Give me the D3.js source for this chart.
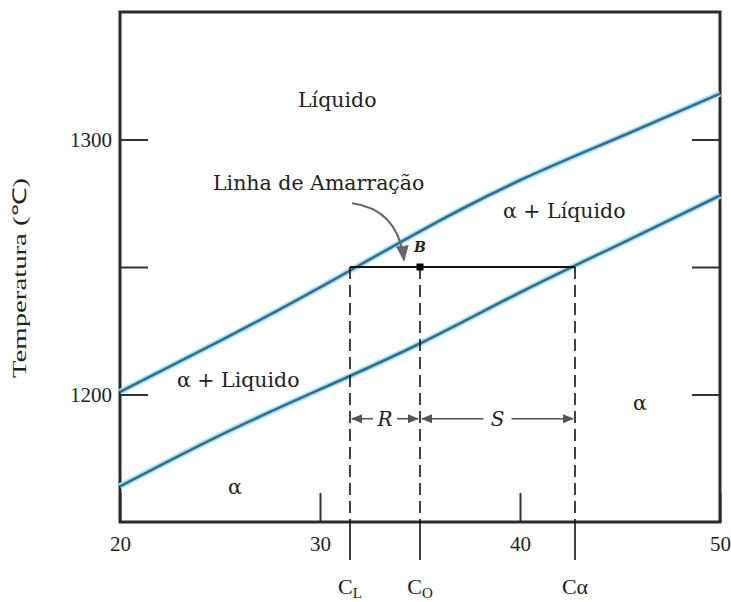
<!DOCTYPE html>
<html><head><meta charset="utf-8">
<script src="https://cdn.jsdelivr.net/npm/d3@7"></script>
<style>
html,body{margin:0;padding:0;background:#fff;}
svg{display:block;}
text{font-family:"DejaVu Serif",serif;fill:#222;}
</style></head>
<body>
<svg id="chart" width="731" height="602"></svg>
<script>
// ---- data ----
const composition = [20, 25, 30, 35, 40, 45, 50];
const liquidusTemp = [1201, 1221, 1242, 1264, 1284, 1301, 1318];
const solidusTemp  = [1164, 1184, 1202, 1220, 1240, 1259, 1278];
const xTicks = [20, 30, 40, 50];
const yTicks = [1200, 1250, 1300];
const yTickLabels = ["1200", "", "1300"];
const tieTemp = 1250;
const cL = 31.5, c0 = 35, cAlpha = 42.75;
const compLabels = [
  {c: cL, main: "C", sub: "L"},
  {c: c0, main: "C", sub: "O"},
  {c: cAlpha, main: "Cα", sub: ""}
];
const regionLabels = [
  {text: "Líquido", c: 28.9, t: 1312.7},
  {text: "Linha de Amarração", c: 24.65, t: 1280.2},
  {text: "α + Líquido", c: 39.15, t: 1269.2},
  {text: "α + Liquido", c: 22.85, t: 1202.9},
  {text: "α", c: 45.65, t: 1193.9},
  {text: "α", c: 25.4, t: 1161}
];

// ---- scales ----
const svg = d3.select("#chart");
const x = d3.scaleLinear().domain([20, 50]).range([120, 720]);
const y = d3.scaleLinear().domain([1150, 1350]).range([522, 12]);

const defs = svg.append("defs");
defs.append("marker").attr("id","ah").attr("viewBox","0 0 10 10").attr("refX",9).attr("refY",5)
  .attr("markerWidth",7).attr("markerHeight",7).attr("orient","auto-start-reverse")
  .append("path").attr("d","M0,1 L10,5 L0,9 z").attr("fill","#555");
defs.append("marker").attr("id","ah2").attr("viewBox","0 0 10 10").attr("refX",9).attr("refY",5)
  .attr("markerWidth",8).attr("markerHeight",8).attr("orient","auto")
  .append("path").attr("d","M0,1 L10,5 L0,9 z").attr("fill","#666");

// ---- axes (inward ticks) ----
const axB = d3.axisBottom(x).tickValues(xTicks).tickSizeInner(-29).tickSizeOuter(0).tickPadding(12).tickFormat(d3.format("d"));
const gB = svg.append("g").attr("transform","translate(0,522)").call(axB);
const axL = d3.axisLeft(y).tickValues(yTicks).tickSizeInner(-28).tickSizeOuter(0).tickPadding(8)
  .tickFormat((d,i)=>yTickLabels[i]);
const gL = svg.append("g").attr("transform","translate(120,0)").call(axL);
const axR = d3.axisRight(y).tickValues(yTicks).tickSizeInner(-28).tickSizeOuter(0).tickFormat("");
const gR = svg.append("g").attr("transform","translate(720,0)").call(axR);
[gB,gL,gR].forEach(g=>{
  g.select(".domain").remove();
  g.selectAll(".tick line").attr("stroke","#333").attr("stroke-width",2);
  g.selectAll(".tick text").style("font-family","'Liberation Serif',serif").style("font-size","21px").attr("fill","#333");
});
gB.selectAll(".tick text").attr("dy","0.8em");

// frame
svg.append("rect").attr("x",x(20)).attr("y",y(1350)).attr("width",x(50)-x(20)).attr("height",y(1150)-y(1350))
  .attr("fill","none").attr("stroke","#2a2a2a").attr("stroke-width",3);

// ---- phase boundary curves ----
const bLine = d3.line().x((d,i)=>x(composition[i])).y(d=>y(d)).curve(d3.curveNatural);
[liquidusTemp, solidusTemp].forEach(arr=>{
  svg.append("path").attr("d",bLine(arr)).attr("fill","none").attr("stroke","#aee3f3").attr("stroke-width",6);
  svg.append("path").attr("d",bLine(arr)).attr("fill","none").attr("stroke","#2a6f98").attr("stroke-width",2.6);
});

// ---- tie line ----
svg.append("line").attr("x1",x(cL)).attr("x2",x(cAlpha)).attr("y1",y(tieTemp)).attr("y2",y(tieTemp))
  .attr("stroke","#111").attr("stroke-width",2);

// dashed verticals
[cL, c0, cAlpha].forEach(c=>{
  svg.append("line").attr("x1",x(c)).attr("x2",x(c)).attr("y1",y(tieTemp)).attr("y2",y(1150))
    .attr("stroke","#111").attr("stroke-width",1.6).attr("stroke-dasharray","12,6");
  svg.append("line").attr("x1",x(c)).attr("x2",x(c)).attr("y1",y(1150)).attr("y2",y(1150)+38)
    .attr("stroke","#111").attr("stroke-width",1.6);
});

// point B
svg.append("rect").attr("x",x(c0)-3.5).attr("y",y(tieTemp)-3.5).attr("width",7).attr("height",7).attr("fill","#000");
svg.append("text").attr("x",x(c0)).attr("y",y(1255.9)).attr("text-anchor","middle")
  .style("font-size","14px").style("font-style","italic").style("font-weight","bold").attr("fill","#333").text("B");

// R and S lever arms
const armT = 1190.5;
function arm(c1, c2, label, gap){
  const xm = (x(c1)+x(c2))/2;
  svg.append("line").attr("x1",xm-gap).attr("x2",x(c1)+2).attr("y1",y(armT)).attr("y2",y(armT))
    .attr("stroke","#555").attr("stroke-width",1.6).attr("marker-end","url(#ah)");
  svg.append("line").attr("x1",xm+gap).attr("x2",x(c2)-2).attr("y1",y(armT)).attr("y2",y(armT))
    .attr("stroke","#555").attr("stroke-width",1.6).attr("marker-end","url(#ah)");
  svg.append("text").attr("x",xm).attr("y",y(armT)+7).attr("text-anchor","middle")
    .style("font-size","20px").style("font-style","italic").attr("fill","#333").text(label);
}
arm(cL, c0, "R", 12);
arm(c0, cAlpha, "S", 14);

// curved annotation arrow
const p0 = [x(31.6), y(1275)], p1 = [x(34.2), y(1252.7)];
svg.append("path").attr("d",`M${p0[0]},${p0[1]} Q${p1[0]-6},${p0[1]+6} ${p1[0]},${p1[1]}`)
  .attr("fill","none").attr("stroke","#666").attr("stroke-width",2).attr("marker-end","url(#ah2)");

// region labels
regionLabels.forEach(d=>{
  svg.append("text").attr("x",x(d.c)).attr("y",y(d.t)).style("font-size","20.5px").text(d.text);
});

// composition labels below
compLabels.forEach(d=>{
  const t = svg.append("text").attr("x",x(d.c)).attr("y",594).attr("text-anchor","middle")
    .style("font-family","'Liberation Serif',serif").style("font-size","22px").attr("fill","#1c1c3a");
  t.append("tspan").text(d.main);
  if(d.sub) t.append("tspan").attr("dy",4).style("font-size","15px").text(d.sub);
});

// y-axis title
svg.append("text").attr("transform","translate(26,278) rotate(-90)").attr("text-anchor","middle")
  .style("font-family","'Liberation Serif',serif").style("font-size","19px").attr("fill","#222")
  .attr("textLength",200).attr("lengthAdjust","spacingAndGlyphs")
  .text("Temperatura (℃)");
</script>
</body></html>
